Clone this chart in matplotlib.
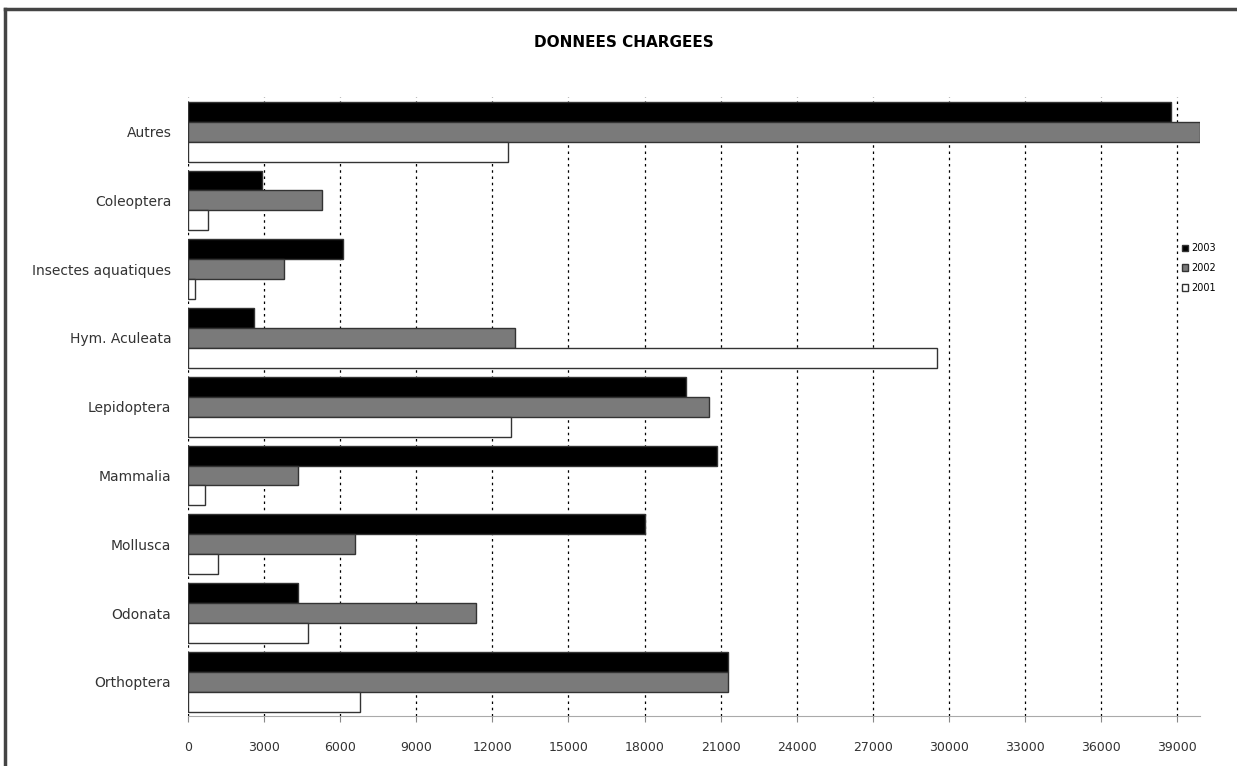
import matplotlib

matplotlib.use("Agg")

import matplotlib.pyplot as plt
import numpy as np
from matplotlib.lines import Line2D

# ---------------------------------------------------------------------------
# Data
# ---------------------------------------------------------------------------
categories = [
    "Autres", "Coleoptera", "Insectes aquatiques", "Hym. Aculeata",
    "Lepidoptera", "Mammalia", "Mollusca", "Odonata", "Orthoptera",
]
years = ["2003", "2002", "2001"]
v2003 = [38750, 2900, 6100, 2600, 19650, 20850, 18000, 4350, 21300]
v2002 = [39900, 5300, 3800, 12900, 20550, 4350, 6600, 11350, 21300]
v2001 = [12600, 800, 280, 29550, 12750, 650, 1200, 4750, 6800]
xticks = list(range(0, 39001, 3000))

COLORS = ["black", "#7a7a7a", "white"]

fig = plt.figure(figsize=(12.37, 7.66), dpi=100)
ax = fig.add_axes([0.152, 0.065, 0.818, 0.808])

y = np.arange(len(categories))
h = 0.29
for k, (vals, col) in enumerate(zip([v2003, v2002, v2001], COLORS)):
    ax.barh(y + (k - 1) * h, vals, height=h, color=col, edgecolor="#333333",
            linewidth=1.0, label=years[k], zorder=3)

ax.set_xlim(0, 39900)
ax.set_ylim(len(categories) - 0.5, -0.5)
ax.set_xticks(xticks)
ax.set_xticklabels([str(t) for t in xticks], fontsize=9, color="#333333")
ax.set_yticks(y)
ax.set_yticklabels(categories, fontsize=10, color="#333333")
ax.tick_params(axis="y", length=0, pad=12)
ax.tick_params(axis="x", length=4, color="#888888", pad=14)

ax.grid(axis="x", color="black", linestyle=(0, (2, 3)), linewidth=0.9, zorder=0)
for side in ("top", "right", "left"):
    ax.spines[side].set_visible(False)
ax.spines["bottom"].set_color("#aaaaaa")

fig.text(0.504, 0.945, "DONNEES CHARGEES", ha="center", va="center",
         fontsize=11, fontweight="bold", family="Liberation Sans Narrow")

handles = [plt.Rectangle((0, 0), 1, 1, facecolor=c, edgecolor="#333333") for c in COLORS]
fig.legend(handles, years, loc="center left", bbox_to_anchor=(0.952, 0.65),
           fontsize=7, frameon=False, handlelength=0.7, handleheight=0.7,
           handletextpad=0.3, labelspacing=1.0, borderaxespad=0)

# frame of the original screenshot (left and top edges)
fig.add_artist(Line2D([0.004, 0.004], [0, 0.988], transform=fig.transFigure,
                      color="#444444", lw=2.5))
fig.add_artist(Line2D([0.004, 1.0], [0.988, 0.988], transform=fig.transFigure,
                      color="#444444", lw=2.5))

fig.savefig("out.png", dpi=100)
